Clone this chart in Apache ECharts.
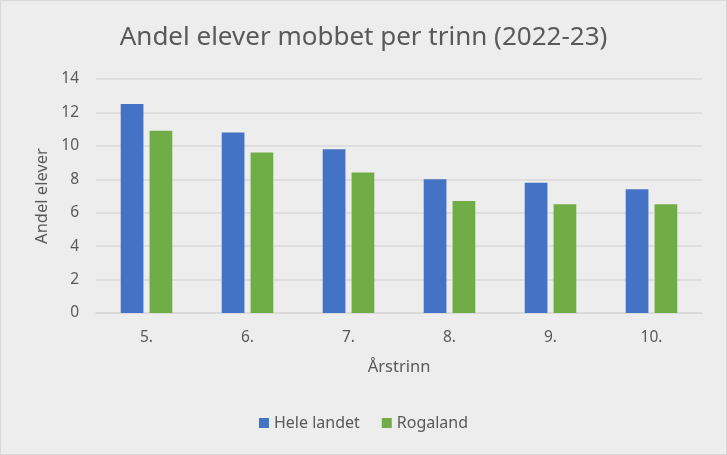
<!DOCTYPE html>
<html lang="no">
<head>
    <meta charset="UTF-8">
    <title>Andel elever mobbet per trinn</title>
    <script src="https://cdn.jsdelivr.net/npm/echarts@6.0.0/dist/echarts.min.js"></script>
    <style>
        html, body { margin: 0; padding: 0; background: #ededed; }
        #chart { width: 727px; height: 455px; box-sizing: border-box; border: 1px solid #d9d9d9; }
    </style>
</head>
<body>
    <div id="chart"></div>

    <script>
        // data
        let trinn = ['5.', '6.', '7.', '8.', '9.', '10.'];
        let heleLandet = [12.5, 10.8, 9.8, 8.0, 7.8, 7.4];
        let rogaland = [10.9, 9.6, 8.4, 6.7, 6.5, 6.5];

        let font = 'Noto Sans';
        let textColor = '#595959';

        let chart = echarts.init(document.getElementById('chart'));

        let option = {
            backgroundColor: '#ededed',
            animation: false,
            title: {
                text: 'Andel elever mobbet per trinn (2022-23)',
                left: 'center',
                top: 19,
                textStyle: { fontFamily: font, fontSize: 26, fontWeight: 'normal', color: textColor }
            },
            legend: {
                bottom: 18,
                left: 'center',
                itemWidth: 10,
                itemHeight: 10,
                itemGap: 22,
                icon: 'rect',
                textStyle: { fontFamily: font, fontSize: 16, color: textColor }
            },
            grid: { left: 95, right: 24, top: 78, bottom: 141 },
            xAxis: {
                type: 'category',
                data: trinn,
                name: 'Årstrinn',
                nameLocation: 'middle',
                nameGap: 46,
                nameTextStyle: { fontFamily: font, fontSize: 16.5, color: textColor },
                axisLine: { lineStyle: { color: '#d9d9d9', width: 1.5 } },
                axisTick: { show: false },
                axisLabel: { fontFamily: font, fontSize: 15.5, color: textColor, margin: 17 }
            },
            yAxis: {
                type: 'value',
                min: 0,
                max: 14,
                interval: 2,
                name: 'Andel elever',
                nameLocation: 'middle',
                nameGap: 44,
                nameTextStyle: { fontFamily: font, fontSize: 16.5, color: textColor },
                axisLine: { show: false },
                axisTick: { show: false },
                axisLabel: { fontFamily: font, fontSize: 15.5, color: textColor, margin: 17 },
                splitLine: { lineStyle: { color: '#d9d9d9', width: 1.5 } }
            },
            series: [
                {
                    name: 'Hele landet',
                    type: 'bar',
                    data: heleLandet,
                    barWidth: '22.5%',
                    barGap: '27%',
                    itemStyle: { color: '#4472C4' }
                },
                {
                    name: 'Rogaland',
                    type: 'bar',
                    data: rogaland,
                    barWidth: '22.5%',
                    barGap: '27%',
                    itemStyle: { color: '#70AD47' }
                }
            ]
        };

        chart.setOption(option);
    </script>
</body>
</html>
